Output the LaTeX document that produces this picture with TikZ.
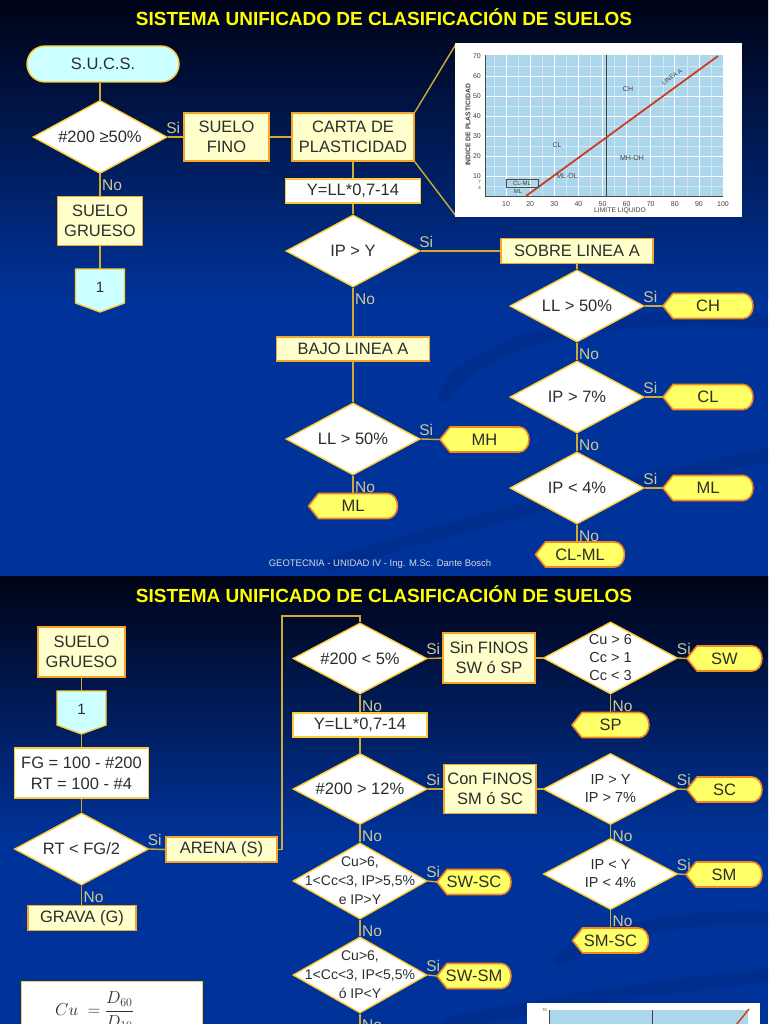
\documentclass[tikz,border=0pt]{standalone}
\usepackage{fontspec}
\setmainfont{Liberation Sans}
\usetikzlibrary{shapes.geometric,calc}
\definecolor{bgdark}{RGB}{0,3,22}
\definecolor{bgblue}{RGB}{0,51,153}
\definecolor{swoosh}{RGB}{0,36,120}
\definecolor{titley}{RGB}{255,255,0}
\definecolor{lnc}{RGB}{210,170,50}
\definecolor{brd}{RGB}{255,204,51}
\definecolor{boxbrd}{RGB}{245,165,40}
\definecolor{boxfill}{RGB}{255,255,204}
\definecolor{cyanfill}{RGB}{204,255,255}
\definecolor{dispfill}{RGB}{255,255,102}
\definecolor{dispbrd}{RGB}{245,135,30}
\definecolor{txt}{RGB}{45,45,45}
\definecolor{lbl}{RGB}{205,200,150}
\definecolor{chartbg}{RGB}{172,214,236}
\definecolor{aline}{RGB}{205,60,30}
\definecolor{foot}{RGB}{215,215,225}
\tikzset{
  base/.style={font=\fontsize{16.5}{20}\selectfont, text=txt, align=center, inner sep=0pt},
  ybox/.style={base, rectangle, draw=boxbrd, fill=boxfill, line width=1.6pt},
  wbox/.style={base, rectangle, draw=brd, fill=white, line width=1.4pt},
  term/.style={base, rectangle, rounded corners=18pt, draw=brd, fill=cyanfill, line width=1.4pt},
  dia/.style={diamond, draw=brd, fill=white, line width=1.4pt, inner sep=0pt, minimum width=134, minimum height=72},
  diatext/.style={base},
  small/.style={font=\fontsize{14.5}{18}\selectfont},
  smaller/.style={font=\fontsize{14}{19}\selectfont},
  dispshape/.style={fill=dispfill, draw=dispbrd, line width=1.6pt, line join=round},
  dispnode/.style={base, minimum height=25},
  offshape/.style={fill=cyanfill, draw=brd, line width=1.4pt},
  conn/.style={draw=lnc, line width=1.4pt},
  si/.style={text=lbl, font=\fontsize{15.5}{18}\selectfont, inner sep=0pt, anchor=south west, xshift=-2pt, yshift=3pt},
  no/.style={text=lbl, font=\fontsize{15.5}{18}\selectfont, inner sep=0pt, anchor=north west, xshift=1.5pt, yshift=-5pt},
  titlestyle/.style={text=titley, font=\bfseries\fontsize{19}{22}\selectfont, inner sep=0pt, anchor=base},
  footstyle/.style={text=foot, font=\fontsize{9.5}{11}\selectfont, inner sep=0pt, anchor=base},
  swooshline/.style={draw=swoosh, line width=14pt, opacity=0.28, line cap=round},
  charttxt/.style={text=black!75, font=\fontsize{7}{8}\selectfont, inner sep=0pt},
  chartgrid/.style={draw=white, line width=0.8pt},
  chartgridminor/.style={draw=white, line width=0.4pt, opacity=0.45},
}
\newcommand\dispbox[5]{%
  \path[dispshape] ({#2-#4/2},#3) -- ({#2-#4/2+10},{#3-12.5}) -- ({#2+#4/2-10},{#3-12.5})
    arc[start angle=-90,end angle=90,x radius=10,y radius=12.5] -- ({#2-#4/2+10},{#3+12.5}) -- cycle;
  \node[dispnode, minimum width=#4] (#1) at (#2,#3) {#5};}
\newcommand\offpage[3]{%
  \path[offshape] ({#2-24.5},#3) -- ({#2+24.5},#3) -- ({#2+24.5},{#3+34}) -- (#2,{#3+43}) -- ({#2-24.5},{#3+34}) -- cycle;
  \node[base, minimum width=49, minimum height=43] (#1) at (#2,{#3+21.5}) {};
  \node[base, font=\fontsize{15}{18}\selectfont] (#1t) at (#2,{#3+18}) {1};}
\newcommand\decision[6][]{%
  \node[dia, minimum height=#5] (#2) at (#3,#4) {};
  \node[diatext,#1] (#2t) at (#3,#4) {#6};}
\begin{document}
\begin{tikzpicture}[x=1pt,y=-1pt]
\clip (0,0) rectangle (768,1024);
% ---------- backgrounds ----------
\shade[top color=bgdark, bottom color=bgblue] (0,0) rectangle (768,300);
\fill[bgblue] (0,299) rectangle (768,576);
\shade[top color=bgdark, bottom color=bgblue] (0,576) rectangle (768,840);
\fill[bgblue] (0,839) rectangle (768,1024);
\draw[swooshline] (445,395) .. controls (480,330) and (640,310) .. (768,322);
\draw[swooshline] (330,565) .. controls (470,520) and (640,480) .. (768,455);
\draw[swooshline] (560,960) .. controls (600,930) and (690,915) .. (768,918);
\draw[swooshline] (450,1024) .. controls (560,1000) and (680,985) .. (768,975);
% ---------- top slide ----------
\node[titlestyle] (title1) at (384,26) {SISTEMA UNIFICADO DE CLASIFICACIÓN DE SUELOS};
\node[footstyle] (foot1) at (380,566) {GEOTECNIA - UNIDAD IV - Ing. M.Sc. Dante Bosch};
\node[term, minimum width=152, minimum height=36] (sucs) at (103,64) {S.U.C.S.};
\decision{d1}{100}{137}{73}{\#200 ≥50\%}
\node[ybox, minimum width=85, minimum height=48] (fino) at (226.5,137) {SUELO\\FINO};
\node[ybox, minimum width=122, minimum height=48] (carta) at (353,137) {CARTA DE\\PLASTICIDAD};
\node[ybox, minimum width=85, minimum height=49] (grueso) at (100,221) {SUELO\\GRUESO};
\offpage{off1}{100}{269}
\node[wbox, minimum width=135, minimum height=24] (yb1) at (353,191) {Y=LL*0,7-14};
\decision{dipy}{353}{251}{72}{IP > Y}
\node[ybox, minimum width=152, minimum height=25] (sobre) at (577,251) {SOBRE LINEA A};
\node[ybox, minimum width=153, minimum height=24] (bajo) at (353,349) {BAJO LINEA A};
\decision{dll}{353}{439}{72}{LL > 50\%}
\dispbox{mh}{484.5}{439.5}{89}{MH}
\dispbox{ml}{353}{506}{89}{ML}
\decision{dll2}{577}{306}{72}{LL > 50\%}
\dispbox{ch}{708}{306}{90}{CH}
\decision{dip7}{577}{397}{72}{IP > 7\%}
\dispbox{cl}{708}{397}{90}{CL}
\decision{dip4}{577}{488}{72}{IP < 4\%}
\dispbox{mlb}{708}{488}{90}{ML}
\dispbox{clml}{580}{554.5}{89}{CL-ML}
% chart
\coordinate (chTL) at (456,44);
\coordinate (chBL) at (456,216);
\draw[conn] (carta.north east) -- (chTL);
\draw[conn] (carta.south east) -- (chBL);
\fill[white] (455,43) rectangle (742,217);
\fill[chartbg] (485,55) rectangle (723,196);
\foreach \L in {5,15,...,95} \draw[chartgridminor] ({482+2.41*\L},55) -- ({482+2.41*\L},196);
\foreach \P in {5,15,...,65} \draw[chartgridminor] (485,{196-2*\P}) -- (723,{196-2*\P});
\foreach \L in {10,20,...,90} \draw[chartgrid] ({482+2.41*\L},55) -- ({482+2.41*\L},196);
\foreach \P in {10,20,...,60} \draw[chartgrid] (485,{196-2*\P}) -- (723,{196-2*\P});
\draw[black!70, line width=0.7pt] (485,55) -- (485,196) -- (723,196);
\draw[black!75, line width=0.8pt] (606,55) -- (606,196);
\draw[aline, line width=1.8pt] (526,196) -- (718,56);
\foreach \L in {10,20,...,100} \node[charttxt] (xt\L) at ({482+2.41*\L},204) {\L};
\foreach \P in {70,60,...,10} \node[charttxt, anchor=east] (yt\P) at (481,{196-2*\P}) {\P};
\node[charttxt, anchor=east, font=\fontsize{4.5}{5}\selectfont] (yt7) at (481,182) {7};
\node[charttxt, anchor=east, font=\fontsize{4.5}{5}\selectfont] (yt4) at (481,188) {4};
\draw[black!70, line width=0.6pt] (506,179) rectangle (538,187);
\node[charttxt, font=\fontsize{6}{7}\selectfont] (chCLML) at (522,183) {CL-ML};
\node[charttxt, font=\fontsize{6}{7}\selectfont] (chML) at (518,191.5) {ML};
\node[charttxt] (chCH) at (628,89) {CH};
\node[charttxt] (chCL) at (557,145) {CL};
\node[charttxt] (chMH) at (632,158) {MH-OH};
\node[charttxt] (chMLOL) at (567,176) {ML-OL};
\node[charttxt, rotate=36, font=\fontsize{6}{7}\selectfont] (chA) at (672,77) {LINEA A};
\node[charttxt, rotate=90, font=\bfseries\fontsize{6.8}{8}\selectfont] (chY) at (468,125) {INDICE DE PLASTICIDAD};
\node[charttxt, font=\fontsize{6.8}{8}\selectfont] (chX) at (620,210.5) {LIMITE LIQUIDO};
% connectors top
\draw[conn] (d1.north |- sucs.south) -- (d1.north);
\draw[conn] (d1.east) -- node[si, at start] (s1) {Si} (fino.west);
\draw[conn] (fino.east) -- (carta.west);
\draw[conn] (d1.south) -- node[no, at start] (n1) {No} (grueso.north);
\draw[conn] (grueso.south) -- (off1.north);
\draw[conn] (carta.south) -- (yb1.north);
\draw[conn] (yb1.south) -- (dipy.north);
\draw[conn] (dipy.east) -- node[si, at start] (s2) {Si} (sobre.west);
\draw[conn] (dipy.south) -- node[no, at start] (n2) {No} (bajo.north);
\draw[conn] (bajo.south) -- (dll.north);
\draw[conn] (dll.east) -- node[si, at start] (s3) {Si} (mh.west);
\draw[conn] (dll.south) -- node[no, at start] (n3) {No} (ml.north);
\draw[conn] (sobre.south) -- (dll2.north);
\draw[conn] (dll2.east) -- node[si, at start] (s4) {Si} (ch.west);
\draw[conn] (dll2.south) -- node[no, at start] (n4) {No} (dip7.north);
\draw[conn] (dip7.east) -- node[si, at start] (s5) {Si} (cl.west);
\draw[conn] (dip7.south) -- node[no, at start] (n5) {No} (dip4.north);
\draw[conn] (dip4.east) -- node[si, at start] (s6) {Si} (mlb.west);
\draw[conn] (dip4.south) -- node[no, at start] (n6) {No} (dip4.south |- clml.north);
% ---------- bottom slide ----------
\node[titlestyle] (title2) at (384,602) {SISTEMA UNIFICADO DE CLASIFICACIÓN DE SUELOS};
\node[ybox, minimum width=87, minimum height=50] (grueso2) at (81.5,652) {SUELO\\GRUESO};
\offpage{off2}{81.5}{691}
\node[wbox, minimum width=134, minimum height=50, font=\fontsize{16.5}{21}\selectfont] (fg) at (81.5,773) {FG = 100 - \#200\\RT = 100 - \#4};
\decision{rt}{81.5}{849}{72}{RT < FG/2}
\node[ybox, minimum width=111, minimum height=25] (arena) at (221.5,849.5) {ARENA (S)};
\node[ybox, minimum width=108, minimum height=25] (grava) at (82,918) {GRAVA (G)};
\decision{d5}{360}{658.5}{71}{\#200 < 5\%}
\node[ybox, minimum width=92, minimum height=50] (sinf) at (489,658) {Sin FINOS\\SW ó SP};
\decision[small]{dcu}{610.5}{658}{72}{Cu > 6\\Cc > 1\\Cc < 3}
\dispbox{sw}{724.5}{658.5}{75}{SW}
\dispbox{sp}{610.5}{725}{77}{SP}
\node[wbox, minimum width=134, minimum height=24] (yb2) at (360,725) {Y=LL*0,7-14};
\decision{d12}{360}{789}{71}{\#200 > 12\%}
\node[ybox, minimum width=92, minimum height=49] (conf) at (490,789) {Con FINOS\\SM ó SC};
\decision[small]{dipyb}{610.5}{789}{71}{IP > Y\\IP > 7\%}
\dispbox{sc}{724.5}{789.5}{75}{SC}
\decision[small]{dipyc}{610.5}{874}{71}{IP < Y\\IP < 4\%}
\dispbox{sm}{724}{874.5}{76}{SM}
\dispbox{smsc}{610.5}{940.5}{76}{SM-SC}
\decision[smaller]{dsw1}{360}{881}{76}{Cu>6,\\1<Cc<3, IP>5,5\%\\e IP>Y}
\dispbox{swsc}{474}{882}{74}{SW-SC}
\decision[smaller]{dsw2}{360}{975}{76}{Cu>6,\\1<Cc<3, IP<5,5\%\\ó IP<Y}
\dispbox{swsm}{474}{976}{74}{SW-SM}
\coordinate (endb) at (360,1030);
\coordinate (turn) at (282,616);
% formula box and small chart
\node[wbox, minimum width=181, minimum height=60, anchor=north west] (fbox) at (21,981) {};
\node[base, anchor=west, font=\fontsize{17}{20}\selectfont] (fmath) at (55,1011) {$\displaystyle Cu\;=\frac{D_{60}}{D_{10}}$};
\fill[white] (527,1003) rectangle (760,1035);
\fill[chartbg] (549,1010) rectangle (748,1035);
\draw[black!70, line width=0.6pt] (549,1010) -- (549,1035);
\draw[black!75, line width=0.8pt] (652,1010) -- (652,1035);
\draw[aline, line width=1.4pt] (736,1025) -- (749,1009);
\node[charttxt, font=\fontsize{4}{5}\selectfont, anchor=east] (ch2t) at (547,1010) {70};
% connectors bottom
\draw[conn] (grueso2.south) -- (off2.north);
\draw[conn] (off2.south) -- (fg.north);
\draw[conn] (fg.south) -- (rt.north);
\draw[conn] (rt.east) -- node[si, at start] (s7) {Si} (arena.west);
\draw[conn] (rt.south) -- node[no, at start] (n7) {No} (grava.north -| rt.south);
\draw[conn] (arena.east) -| (turn) -| (d5.north);
\draw[conn] (d5.east) -- node[si, at start] (s8) {Si} (sinf.west);
\draw[conn] (sinf.east) -- (dcu.west);
\draw[conn] (dcu.east) -- node[si, at start] (s9) {Si} (sw.west);
\draw[conn] (dcu.south) -- node[no, at start] (n9) {No} (sp.north);
\draw[conn] (d5.south) -- node[no, at start] (n8) {No} (yb2.north);
\draw[conn] (yb2.south) -- (d12.north);
\draw[conn] (d12.east) -- node[si, at start] (s10) {Si} (conf.west);
\draw[conn] (conf.east) -- (dipyb.west);
\draw[conn] (dipyb.east) -- node[si, at start] (s11) {Si} (sc.west);
\draw[conn] (dipyb.south) -- node[no, at start] (n11) {No} (dipyc.north);
\draw[conn] (dipyc.east) -- node[si, at start] (s12) {Si} (sm.west);
\draw[conn] (dipyc.south) -- node[no, at start] (n12) {No} (smsc.north);
\draw[conn] (d12.south) -- node[no, at start] (n10) {No} (dsw1.north);
\draw[conn] (dsw1.east) -- node[si, at start] (s13) {Si} (swsc.west);
\draw[conn] (dsw1.south) -- node[no, at start] (n13) {No} (dsw2.north);
\draw[conn] (dsw2.east) -- node[si, at start] (s14) {Si} (swsm.west);
\draw[conn] (dsw2.south) -- node[no, at start] (n14) {No} (endb);
\end{tikzpicture}
\end{document}
